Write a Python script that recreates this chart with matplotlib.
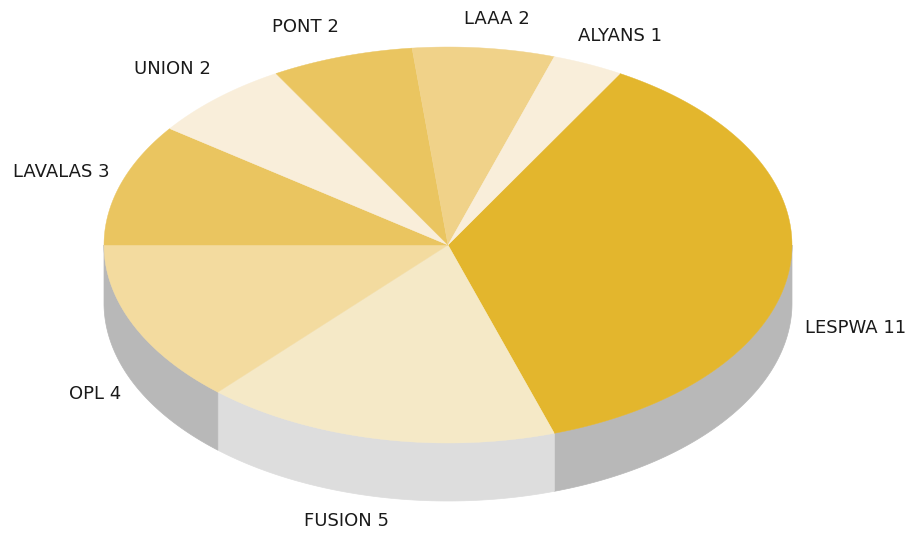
import matplotlib
matplotlib.use("Agg")
import matplotlib.pyplot as plt
import numpy as np

# slices, clockwise from the start angle
names = ["LESPWA", "FUSION", "OPL", "LAVALAS", "UNION", "PONT", "LAAA", "ALYANS"]
seats = [11, 5, 4, 3, 2, 2, 2, 1]
top_colors = ["#E3B62D", "#F5E9C7", "#F3DB9F", "#EAC560", "#F9EEDA", "#EAC560", "#F0D289", "#F9EEDA"]
side_colors = ["#B8B8B8", "#DDDDDD", "#B8B8B8", "#B8B8B8", "#B8B8B8", "#B8B8B8", "#B8B8B8", "#B8B8B8"]

# label centres in pixels, same order as names
label_x = [855.5, 347, 95, 61, 172, 305, 497, 620]
label_y = [328, 521, 394, 172, 69, 27, 19, 36]

# pie geometry in pixels
cx, cy = 448, 245
rx, ry = 344, 198
depth = 58
start_angle = 60


def arc(a0, a1):
    t = np.radians(np.linspace(a0, a1, 200))
    return cx + rx * np.cos(t), cy - ry * np.sin(t)


fig = plt.figure(figsize=(9.09, 5.33), dpi=100)
ax = fig.add_axes([0, 0, 1, 1])
ax.set_xlim(0, 909)
ax.set_ylim(533, 0)
ax.axis("off")

angles = start_angle - np.cumsum([0] + seats) * 360 / sum(seats)

#walls first, only the front half of the pie shows one
for i in range(len(seats)):
    a0 = min(angles[i], 0)
    a1 = max(angles[i + 1], -180)
    if a0 <= a1:
        continue
    x, y = arc(a0, a1)
    ax.fill(np.r_[x, x[::-1]], np.r_[y, y[::-1] + depth], color=side_colors[i], lw=0.5, zorder=1)

#top faces
for i in range(len(seats)):
    x, y = arc(angles[i], angles[i + 1])
    ax.fill(np.r_[cx, x], np.r_[cy, y], color=top_colors[i], lw=0.3, zorder=2)

for i in range(len(seats)):
    ax.text(label_x[i], label_y[i], f"{names[i]} {seats[i]}", ha="center", va="center",
            family="DejaVu Sans", fontsize=13, color="#1a1a1a")

fig.savefig("out.png", dpi=100)
